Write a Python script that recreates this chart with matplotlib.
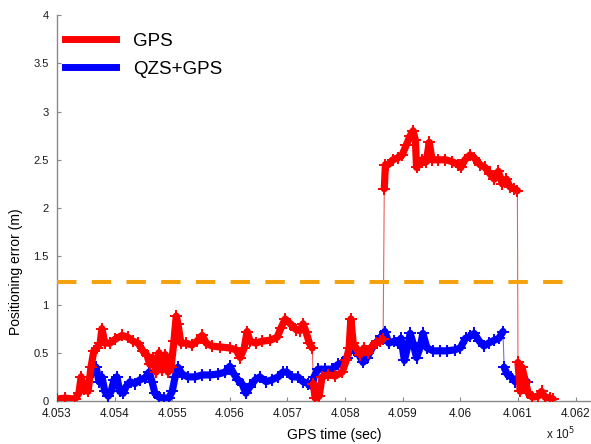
import numpy as np
import matplotlib
matplotlib.use('Agg')
import matplotlib.pyplot as plt
from matplotlib.lines import Line2D

plt.rcParams['font.family'] = ['Liberation Sans', 'DejaVu Sans']

# ---------------- data ----------------
gps_t = [405300, 405314, 405331, 405338, 405342, 405347, 405354, 405359, 405364, 405369,
         405375, 405378, 405383, 405392, 405401, 405413, 405423, 405432, 405441, 405449,
         405456, 405461, 405466, 405472, 405477, 405482, 405488, 405493, 405498, 405503,
         405507, 405510, 405515, 405524, 405534, 405543, 405552, 405559, 405569, 405583,
         405600, 405611, 405618, 405625, 405630, 405635, 405645, 405656, 405670, 405682,
         405689, 405696, 405705, 405715, 405722, 405727, 405732, 405738, 405743,
         405745, 405748, 405755, 405760, 405770, 405783, 405795, 405802, 405807, 405810,
         405814, 405819, 405826, 405833, 405840, 405847, 405854, 405861, 405866,
         405868, 405870, 405875, 405883, 405892, 405899, 405906, 405913, 405918, 405922,
         405924, 405928, 405934, 405941, 405946, 405951, 405961, 405974, 405986, 405996,
         406001, 406008, 406017, 406024, 406034, 406043, 406052, 406059, 406066, 406073,
         406080, 406086, 406093, 406099,
         406100, 406104, 406107, 406113, 406118, 406125, 406135, 406141, 406147, 406156,
         406161]
gps_err = [0.02, 0.03, 0.02, 0.08, 0.25, 0.12, 0.10, 0.35, 0.52, 0.55,
           0.60, 0.75, 0.60, 0.60, 0.64, 0.68, 0.66, 0.62, 0.60, 0.52,
           0.48, 0.38, 0.45, 0.30, 0.50, 0.32, 0.48, 0.30, 0.35, 0.62,
           0.88, 0.80, 0.60, 0.60, 0.58, 0.62, 0.68, 0.60, 0.57, 0.56,
           0.55, 0.53, 0.45, 0.55, 0.72, 0.62, 0.60, 0.62, 0.63, 0.66,
           0.76, 0.85, 0.80, 0.74, 0.73, 0.80, 0.72, 0.60, 0.55,
           0.18, 0.03, 0.05, 0.25, 0.27, 0.26, 0.30, 0.42, 0.55, 0.85,
           0.60, 0.55, 0.48, 0.55, 0.50, 0.57, 0.60, 0.62, 0.64,
           2.20, 2.45, 2.45, 2.50, 2.52, 2.55, 2.65, 2.75, 2.80, 2.70,
           2.42, 2.45, 2.50, 2.48, 2.68, 2.50, 2.50, 2.50, 2.48, 2.45,
           2.42, 2.50, 2.55, 2.52, 2.45, 2.42, 2.35, 2.30, 2.38, 2.25,
           2.30, 2.22, 2.20, 2.18,
           0.40, 0.10, 0.35, 0.20, 0.08, 0.04, 0.05, 0.10, 0.04, 0.03,
           0.02]

qzs_t = [405363, 405368, 405373, 405378, 405383, 405389, 405394, 405399, 405404, 405409,
         405415, 405420, 405427, 405435, 405444, 405453, 405460, 405465, 405470, 405477,
         405486, 405494, 405500, 405505, 405510, 405517, 405527, 405540, 405552, 405566,
         405580, 405592, 405600, 405607, 405614, 405621, 405628, 405635, 405644, 405652,
         405663, 405673, 405684, 405692, 405699, 405708, 405718, 405727, 405736, 405743,
         405746, 405753, 405765, 405778, 405788, 405797, 405803, 405810, 405817, 405824,
         405831, 405838, 405847, 405856, 405863, 405869, 405876, 405885, 405892, 405897,
         405903, 405908, 405913, 405918, 405924, 405930, 405935, 405942, 405953, 405965,
         405977, 405990, 406000, 406009, 406017, 406024, 406033, 406041, 406049, 406059,
         406067, 406074,
         406076, 406081, 406088, 406095, 406102, 406109, 406116]
qzs_err = [0.30, 0.35, 0.20, 0.25, 0.10, 0.05, 0.10, 0.22, 0.25, 0.10,
           0.08, 0.15, 0.20, 0.18, 0.22, 0.24, 0.30, 0.20, 0.08, 0.04,
           0.03, 0.03, 0.10, 0.25, 0.35, 0.28, 0.25, 0.25, 0.27, 0.27,
           0.28, 0.30, 0.36, 0.28, 0.22, 0.18, 0.08, 0.15, 0.22, 0.25,
           0.20, 0.22, 0.25, 0.30, 0.30, 0.25, 0.25, 0.20, 0.18, 0.15,
           0.25, 0.33, 0.33, 0.33, 0.38, 0.40, 0.45, 0.55, 0.52, 0.48,
           0.40, 0.45, 0.55, 0.62, 0.67, 0.72, 0.60, 0.62, 0.60, 0.65,
           0.42, 0.55, 0.70, 0.60, 0.45, 0.55, 0.70, 0.55, 0.52, 0.52,
           0.52, 0.53, 0.55, 0.65, 0.67, 0.70, 0.62, 0.57, 0.60, 0.63,
           0.65, 0.72,
           0.35, 0.28, 0.25, 0.20, 0.25, 0.18, 0.20]

threshold_level = 1.23
threshold_t = [405300, 406180]

x_ticks = [405300, 405400, 405500, 405600, 405700, 405800, 405900, 406000, 406100, 406200]
x_tick_labels = ['4.053', '4.054', '4.055', '4.056', '4.057', '4.058', '4.059', '4.06',
                 '4.061', '4.062']
y_ticks = [0, 0.5, 1, 1.5, 2, 2.5, 3, 3.5, 4]
y_tick_labels = ['0', '0.5', '1', '1.5', '2', '2.5', '3', '3.5', '4']

series_names = ['GPS', 'QZS+GPS']
series_colors = ['#FF0000', '#0000FF']


def split_at_jumps(t, y, jump=0.34):
    t = np.asarray(t, float)
    y = np.asarray(y, float)
    idx = np.where(np.abs(np.diff(y)) > jump)[0] + 1
    return np.split(t, idx), np.split(y, idx)


fig = plt.figure(figsize=(5.91, 4.44), dpi=100)
ax = fig.add_axes([0.0964, 0.0968, 0.9019, 0.8694])

# blue first, red on top
for t, y, col, thin in [(qzs_t, qzs_err, series_colors[1], '#7070E0'),
                        (gps_t, gps_err, series_colors[0], '#E86060')]:
    ax.plot(t, y, color=thin, lw=0.8, zorder=2)
    ts, ys = split_at_jumps(t, y)
    for a, b in zip(ts, ys):
        ax.plot(a, b, color=col, lw=5.2, marker='+', ms=9, mew=1.4,
                solid_capstyle='round', solid_joinstyle='round', zorder=3)

ax.plot(threshold_t, [threshold_level, threshold_level], color='#F5A20F', lw=2.9,
        dashes=(14 / 2.9, 11 / 2.9), zorder=4)

ax.set_xlim(405300, 406225)
ax.set_ylim(0, 4)
ax.set_xticks(x_ticks)
ax.set_xticklabels(x_tick_labels)
ax.set_yticks(y_ticks)
ax.set_yticklabels(y_tick_labels)

for s in ['top', 'right']:
    ax.spines[s].set_visible(False)
for s in ['left', 'bottom']:
    ax.spines[s].set_color('#8a8a8a')
    ax.spines[s].set_linewidth(1.0)
ax.tick_params(axis='x', direction='in', length=3, color='#8a8a8a', labelsize=8.5,
               pad=5, labelcolor='#1a1a1a')
ax.tick_params(axis='y', direction='in', length=3, color='#8a8a8a', labelsize=8,
               pad=6, labelcolor='#1a1a1a')

ax.set_xlabel('GPS time (sec)', fontsize=10)
ax.xaxis.set_label_coords(0.52, -0.07)
ax.set_ylabel('Positioning error (m)', fontsize=10)
ax.yaxis.set_label_coords(-0.064, 0.334)
ax.text(0.944, -0.085, r'x 10$^5$', transform=ax.transAxes, fontsize=8.5,
        ha='center', va='center', color='#1a1a1a')

handles = [Line2D([0], [0], color=c, lw=5) for c in series_colors]
ax.legend(handles, series_names, loc='upper left', bbox_to_anchor=(0.015, 0.955),
          frameon=False, fontsize=13.5, handlelength=2.7, handletextpad=0.95,
          borderpad=0, borderaxespad=0, labelspacing=0.6)

fig.savefig('out.png', dpi=100)
